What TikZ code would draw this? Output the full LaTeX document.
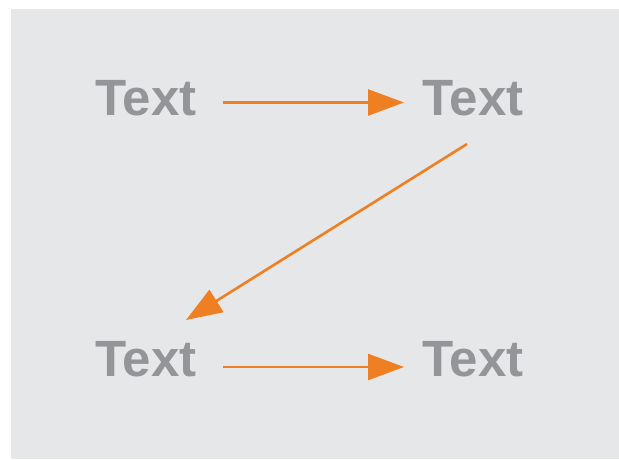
\documentclass[tikz,border=0pt]{standalone}
\usepackage{fontspec}
\setmainfont{Liberation Sans}
\usetikzlibrary{arrows.meta}
\definecolor{bgc}{HTML}{E6E7E8}
\definecolor{txtc}{HTML}{939598}
\definecolor{orng}{HTML}{EE7F22}
\begin{document}
\begin{tikzpicture}[x=1pt,y=-1pt,
  lbl/.style={inner sep=0pt, outer sep=0pt, anchor=base, text height=36pt, text depth=0pt,
    font=\fontsize{51}{51}\selectfont\bfseries, text=txtc},
  arr/.style={draw=orng, line width=2.6pt, -{Triangle[length=36pt,width=26pt]}}]
\useasboundingbox (0,0) rectangle (619,459);
\fill[bgc] (11,9) rectangle (619,459);
\node[lbl] (a) at (146,115) {Text};
\node[lbl] (b) at (473,115) {Text};
\node[lbl] (c) at (146,376) {Text};
\node[lbl] (d) at (473,376) {Text};
\draw[arr] ([yshift=-5.5pt]a.center -| 223,0) -- ([yshift=-5.5pt]b.center -| 404,0);
\draw[arr] ([xshift=-6pt,yshift=-29pt]b.south) -- ([xshift=40pt,yshift=20pt]c.north);
\draw[arr] ([yshift=9pt]c.base -| 223,0) -- ([yshift=9pt]d.base -| 404,0);
\end{tikzpicture}
\end{document}
